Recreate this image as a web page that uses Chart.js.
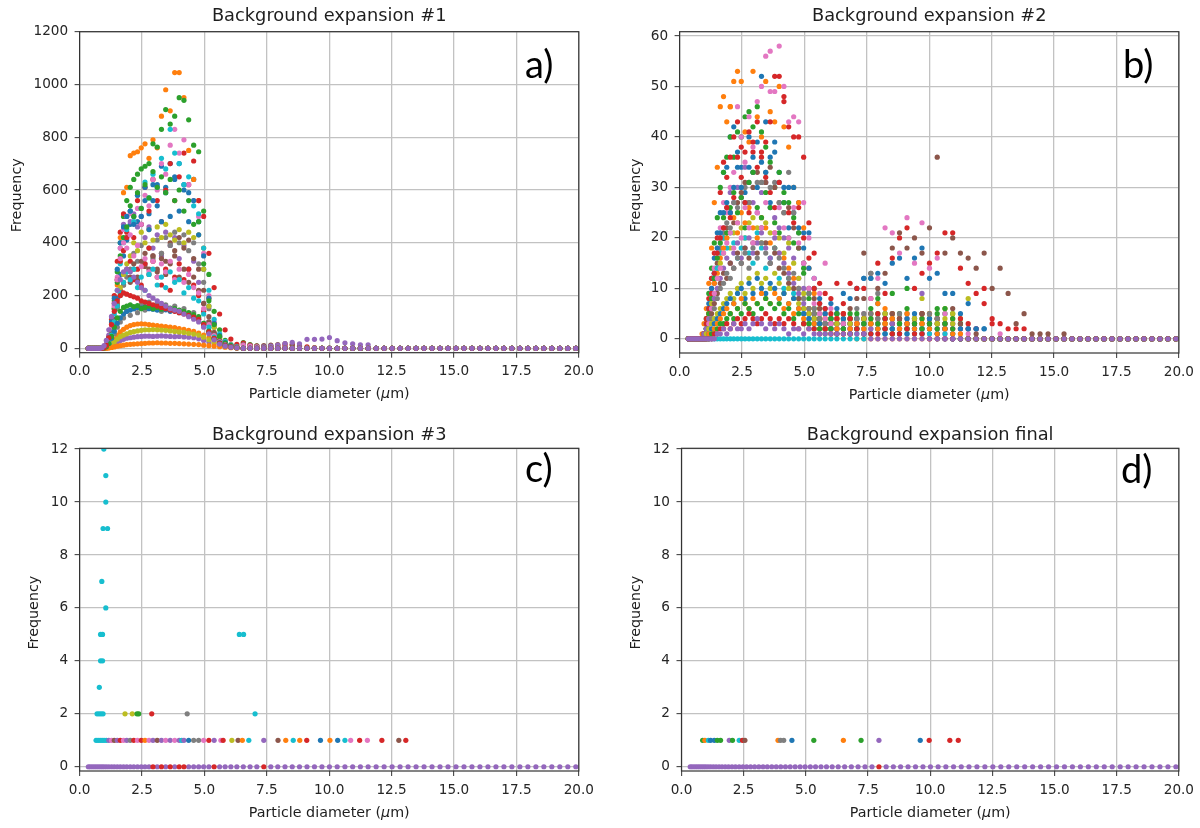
<!DOCTYPE html>
<html>
<head>
<meta charset="utf-8">
<script src="https://cdn.jsdelivr.net/npm/chart.js@4.4.1/dist/chart.umd.min.js"></script>
<style>
  html, body { margin: 0; padding: 0; background: #fff; }
  #fig { position: relative; width: 1200px; height: 828px; }
  canvas { position: absolute; }
</style>
</head>
<body>
<div id="fig">
  <canvas id="pa" width="600" height="414" style="left:0;top:0"></canvas>
  <canvas id="pb" width="600" height="414" style="left:600px;top:0"></canvas>
  <canvas id="pc" width="600" height="414" style="left:0;top:414px"></canvas>
  <canvas id="pd" width="600" height="414" style="left:600px;top:414px"></canvas>
</div>
<script>
// bin centres, particle diameter (um)
const diam = [0.35,0.42,0.50,0.58,0.66,0.74,0.82,0.90,0.98,1.07,
  1.17,1.28,1.39,1.51,1.63,1.76,1.89,2.03,2.17,2.32,
  2.47,2.62,2.78,2.94,3.11,3.28,3.45,3.63,3.81,3.99,
  4.18,4.37,4.57,4.77,4.97,5.18,5.39,5.61,5.83,6.06,
  6.30,6.56,6.83,7.10,7.38,7.66,7.94,8.23,8.52,8.81,
  9.11,9.41,9.71,10.01,10.32,10.63,10.94,11.25,11.56,11.88,
  12.20,12.52,12.84,13.16,13.48,13.80,14.12,14.44,14.76,15.08,
  15.40,15.72,16.04,16.36,16.68,17.00,17.32,17.64,17.96,18.28,
  18.60,18.92,19.24,19.56,19.88];

const xTicks = [0, 2.5, 5, 7.5, 10, 12.5, 15, 17.5, 20];
const yTicksA = [0, 200, 400, 600, 800, 1000, 1200];
const yTicksB = [0, 10, 20, 30, 40, 50, 60];
const yTicksCD = [0, 2, 4, 6, 8, 10, 12];

const tab10 = ['#1f77b4','#ff7f0e','#2ca02c','#d62728','#9467bd','#8c564b','#e377c2','#7f7f7f','#bcbd22','#17becf'];

// panel a: frequency per bin, one array per sample (missing tail = 0)
const a0 = [0,0,0,0,0,0,0,0,2,8, 25,60,110,190,280,350,410,470,500,480, 470,560,510,620,540,690,610,700,650,700, 620,590,640,480,300,160,90,45,22,10, 4];
const a1 = [0,0,0,0,0,0,0,0,2,10, 35,90,150,240,420,590,610,730,740,745, 760,775,720,790,760,880,980,900,1045,1045, 950,750,640,560,380,190,95,45,20,10, 5];
const a2 = [0,0,0,0,0,0,0,0,3,12, 40,100,180,290,400,500,560,610,640,660, 680,690,700,775,763,830,905,850,880,950, 940,866,770,745,520,280,140,70,30,14, 6,22,14,9,7,6,5];
const a3 = [0,0,0,0,0,0,0,0,3,15, 45,110,200,330,440,510,440,520,420,560, 470,610,520,640,560,480,600,700,560,650, 740,620,710,560,500,360,230,130,70,35, 15,20,12,8,6,8,10,12,15,10, 5,3];
const a4 = [0,0,0,0,0,0,0,0,4,15, 50,120,150,260,380,470,420,480,510,460, 500,420,460,380,430,350,440,390,420,340, 390,300,330,250,170,100,55,28,14,6, 2];
const a5 = [0,0,0,0,0,0,0,0,2,8, 25,60,110,170,220,240,290,250,300,270, 230,310,280,350,300,360,330,400,370,420, 380,410,340,300,220,120,60,30,16,8, 3,15,10,8,10,12,14,18,12,8];
const a6 = [0,0,0,0,0,0,0,0,2,10, 30,80,160,270,380,450,500,510,480,530, 470,580,540,640,600,700,660,770,830,740, 790,620,560,500,360,200,100,50,25,12, 5,12,8,5];
const a7 = [0,0,0,0,0,0,0,0,1,6, 20,50,90,150,200,240,270,300,360,330, 390,320,380,340,410,360,420,390,440,400, 430,370,400,320,250,150,80,40,20,9, 4];
const a8 = [0,0,0,0,0,0,0,0,2,7, 22,55,100,160,230,280,320,350,400,370, 440,400,450,410,460,420,470,430,410,450, 400,440,420,430,300,160,80,40,18,8, 3];
const a9 = [0,0,0,0,0,0,0,0,2,9, 28,70,130,220,320,400,450,520,480,580, 530,630,570,660,610,720,680,830,740,700, 620,650,540,510,380,220,110,55,25,12, 5];
const a10 = [0,0,0,0,0,0,0,0,3,12, 40,100,190,300,400,460,500,520,470,580, 500,610,450,560,620,480,590,500,640,520, 600,480,560,430,350,190,95,48,22,10, 4];
const a11 = [0,0,0,0,0,0,0,0,0,2, 8,20,35,50,62,72,80,86,90,92, 93,92,90,88,86,84,82,80,78,75, 72,68,64,58,50,40,30,20,12,6, 3];
const a12 = [0,0,0,0,0,0,0,0,2,10, 30,80,150,250,350,420,460,540,500,590, 530,620,570,670,610,650,590,640,560,600, 520,560,470,480,320,180,90,45,20,10, 4];
const a13 = [0,0,0,0,0,0,0,0,2,10, 35,90,170,260,330,370,420,330,260,300, 240,320,380,330,270,240,300,220,270,320, 260,300,240,200,140,90,50,25,12,6, 2];
const a14 = [0,0,0,0,0,0,0,0,0,1, 4,10,18,25,30,34,38,40,42,44, 45,46,46,45,46,47,46,45,44,45, 43,42,40,36,30,24,18,12,8,5, 3,2,2,3,5,8,12,18,23,17, 34,34,35,41,29,21,17,13,13];
const a15 = [0,0,0,0,0,0,0,0,1,6, 20,55,100,160,210,250,300,270,320,260, 330,360,300,350,290,340,280,320,350,270, 300,250,270,220,170,100,55,28,14,7, 3];
const a16 = [0,0,0,0,0,0,0,0,2,9, 30,80,160,260,340,400,380,430,350,390, 310,340,290,330,270,320,290,330,260,300, 250,280,230,210,150,90,48,24,12,6, 2];
const a17 = [0,0,0,0,0,0,0,0,1,4, 12,30,55,80,100,115,140,125,150,135, 165,145,175,150,170,140,165,145,160,135, 150,125,135,115,95,65,38,20,10,5, 2];
const a18 = [0,0,0,0,0,0,0,0,0,2, 6,15,25,35,44,50,55,60,63,66, 68,70,70,71,70,69,68,66,64,62, 60,57,54,50,42,32,22,14,8,4, 2];
const a19 = [0,0,0,0,0,0,0,0,1,6, 20,50,100,160,210,250,290,260,300,230, 270,220,280,300,240,270,230,290,250,260, 210,230,190,180,130,80,42,22,11,5, 2];
const a20 = [0,0,0,0,0,0,0,0,1,5, 15,38,65,95,115,130,140,145,150,155, 152,158,150,148,145,150,146,140,142,138, 132,128,120,110,88,60,36,20,10,5, 2];
const a21 = [0,0,0,0,0,0,0,0,0,0, 1,3,5,8,10,12,14,15,16,17, 18,19,20,20,21,20,20,19,19,18, 17,16,15,14,12,10,8,6,4,2, 1];
const a22 = [0,0,0,0,0,0,0,0,1,6, 18,45,80,115,140,155,160,165,158,162, 150,155,160,150,155,148,160,152,150,145, 140,135,128,120,95,65,38,20,10,5, 2];
const a23 = [0,0,0,0,0,0,0,0,2,12, 40,90,140,180,200,210,205,200,195,190, 180,175,170,165,160,155,150,145,140,135, 130,125,118,110,90,62,38,20,10,5, 2];
const a24 = [0,0,0,0,0,0,0,2,10,30, 70,120,170,220,260,290,300,290,270,250, 230,220,200,190,180,170,160,150,145,140, 130,120,110,100,80,55,32,16,8,4, 2];

// panel b
const b0 = [0,0,0,0,0,0,0,0,1,3, 7,12,16,21,25,33,34,40,42,37, 34,29,40,33,39,52,43,36,37,33, 30,30,25,27,21,21,12,8,6,7, 6,9,8,10,12,12,13,11,15,16, 12,16,18,12,13,9,9,5,7,2, 2];
const b1 = [0,0,0,0,0,0,0,1,3,6, 11,18,27,34,46,48,43,46,51,53, 51,41,39,53,44,40,51,45,43,50, 42,38,30,27,22,14,9,6,4,3, 2,2,1];
const b2 = [0,0,0,0,0,0,0,0,1,4, 9,14,19,24,30,33,36,40,36,41, 40,44,45,42,46,41,38,35,30,33, 29,27,24,18,14,9,6,4,3,2, 3,4,5,4,3,6,8,5,9,5, 10,4,5,4,6,5,5,3];
const b3 = [0,0,0,0,0,0,0,0,1,4, 8,12,17,20,29,35,32,36,40,43, 38,37,41,37,43,36,39,43,52,52, 48,42,40,40,36,23,17,11,9,8, 11,7,11,10,10,8,15,9,16,20, 22,10,13,15,17,21,21,14,11,9, 7,4,3,2,2,2];
const b4 = [0,0,0,0,0,0,0,0,1,2, 6,9,13,17,20,22,26,29,27,30, 28,34,31,27,25,29,31,26,24,22, 20,18,16,12,10,6,4,3,2,2, 2,1,2,2,1,2,3,2,1,2, 4,2,9,2,1,0,0,0,2];
const b5 = [0,0,0,0,0,0,0,0,1,2, 5,8,12,15,18,20,22,25,23,27, 29,31,27,30,33,31,31,34,30,27, 25,26,22,18,15,10,8,6,5,4, 3,5,6,8,17,13,10,13,18,21, 18,20,17,22,36,17,20,17,16,14, 17,10,14,9,3,5,1,1,1,0, 1];
const b6 = [0,0,0,0,0,0,0,0,1,3, 6,10,14,18,22,27,25,30,33,46, 40,35,44,38,47,50,56,57,49,58, 50,43,44,43,27,20,12,9,15,6, 4,3,2,3,5,8,12,22,21,17, 24,15,23,14,16,5,3,2,1];
const b7 = [0,0,0,0,0,0,0,0,0,2, 5,9,11,14,18,21,23,22,27,26, 28,30,27,33,31,31,33,30,31,27, 25,33,25,21,15,9,6,5,3,4, 5,3,4,6,5,13,9,5,4,3, 5,3,2,4,3,2];
const b8 = [0,0,0,0,0,0,0,0,0,1, 4,7,9,12,15,17,20,18,21,23, 22,20,23,24,22,19,23,21,18,20, 17,19,15,12,9,6,4,3,2,3, 4,2,3,3,2,4,3,5,4,2, 3,4,8,5,4,6,5,4,8];
const b9 = [0,0,0,0,0,0,0,0,1,3, 6,9,12,14,17,20,18,21,19,16, 18,20,17,15,21,18,14,16,18,12, 10,12,9,8,5,4,3,2,2,3, 2,3,2,1,2,3,2,1,2,3, 1,2,1,2];
const b10 = [0,0,0,0,0,0,0,0,1,2, 6,10,13,18,21,25,27,25,30,34, 30,27,34,36,30,35,33,27,39,31, 27,22,30,22,18,14,10,7,5,4, 5,4,3,4,12,12,7,4,5,3, 4,5,3,4,3,2];
const b11 = [0,0,0,0,0,0,0,0,1,3, 5,8,11,13,16,18,20,46,24,21, 25,23,26,22,20,24,22,19,21,17, 16,14,12,10,8,6,5,4,4,3, 4,5,4,3,4,5,7,6,5,4, 5,3,4,5,3,2,4,2];
const b12 = [0,0,0,0,0,0,0,0,0,2, 5,8,12,16,19,24,21,26,29,25, 28,22,31,33,26,24,29,26,23,21, 27,20,19,21,13,8,5,4,3,4, 5,3,4,5,4,3,5,4,3,4, 6,3,4,3,5,6,4,3];
const b13 = [0,0,0,0,0,0,0,0,1,3, 6,9,13,17,20,22,26,24,28,36, 32,27,25,39,34,37,32,29,26,31, 47,25,23,26,20,16,10,7,6,5, 4,5,4,3,4,3,5,4,3,4, 2,3,5,3,4,3,2,4,3,2, 10,3];
const b14 = [0,0,0,0,0,0,0,0,1,2, 4,6,8,10,12,14,16,15,17,19, 16,18,20,17,19,21,18,16,20,17, 15,13,11,9,7,5,4,3,3,2, 3,2,3,2,3,2,3,2,3,2, 3,2,2,3,2,2,3,2,2,2];
const b15 = [0,0,0,0,0,0,0,0,0,1, 3,5,7,9,11,13,12,15,14,17, 15,18,16,19,17,22,19,15,17,14, 13,11,10,8,6,5,4,3,2,3, 2,3,2,3,8,5,4,3,5,4, 3,4,5,3,4,3,6,3,2,1];
const b16 = [0,0,0,0,0,0,0,0,0,1, 3,6,9,12,14,17,19,21,18,23, 20,26,22,19,25,22,27,49,21,26, 22,20,26,19,15,10,7,5,4,3, 2,3,2,3,2,4,3,2,1,2, 3,1,2,1,2,1,2,1,0,0, 0,0,1];
const b17 = [0,0,0,0,0,0,0,0,0,1, 2,4,6,8,10,11,13,12,14,16, 15,17,14,18,16,19,17,15,18,16, 14,12,13,10,8,6,5,4,3,2, 3,2,3,4,3,5,4,3,4,5, 3,4,3,5,4,3];
const b18 = [0,0,0,0,0,0,0,0,0,1, 2,3,4,5,6,7,8,9,8,10, 11,9,12,10,13,11,12,10,13,11, 9,10,8,7,6,5,4,3,2,2, 3,2,3,2,4,3,2,3,2,3, 2,4,3,2,3,4,3];
const b19 = [0,0,0,0,0,0,0,0,0,0, 0,0,0,0,0,0,0,0,0,0, 0,0,0,0,0,0,0,0,0,0, 0,0,0,0,0,0,0,0,0,0, 0,0,0,0,0,1,2,1,2,1, 2,1,2,1,1,1,1];
const b20 = [0,0,0,0,0,0,0,0,0,0, 1,2,3,4,5,6,7,8,7,9, 10,8,11,9,12,10,9,11,10,8, 9,7,8,6,5,4,3,3,2,2, 1,2,1,2,1,1,2,1,2,1, 1,2,1,2,1,2,1,2,2,2, 2];
const b21 = [0,0,0,0,0,0,0,0,0,0, 1,1,2,3,4,5,6,5,7,6, 8,7,6,8,7,9,8,7,9,8, 6,7,5,6,4,3,3,2,2,1, 2,1,2,3,2,3,2,3,4,2, 3,2,3,2,1,2,1,1];
const b22 = [0,0,0,0,0,0,0,0,0,0, 0,1,1,2,3,3,4,5,4,6, 5,7,6,5,7,6,8,7,6,7, 5,6,4,5,3,3,2,2,1,2, 1,2,1,2,3,4,3,2,1,3, 2,3,2,3,2,3,2];
const b23 = [0,0,0,0,0,0,0,0,0,0, 0,0,1,1,2,2,3,2,3,4, 3,4,5,4,3,4,5,4,3,4, 3,4,3,2,3,2,2,1,2,1, 1,1,1,2,1,1,1,2,1,1, 2,1,1];
const b24 = [0,0,0,0,0,0,0,0,0,0, 0,0,0,1,1,2,1,2,3,2, 2,3,2,3,4,3,2,3,2,3, 2,1,2,2,1,2,1,1,1,1, 1,1,1,1,1];

// panel c: non-zero points (x um, frequency, colour index)
const cX = [0.97,1.05,1.05,0.94,1.12,0.89,1.05,0.84,0.92,0.84,0.92,0.79,0.70,0.78,0.86,0.94,
  6.40,6.57,7.03, 1.82,2.11,2.30,2.37,2.89,4.31,
  0.66,0.74,0.82,0.90,0.98,1.07,1.17,1.28,1.39,1.51,1.63,1.76,1.89,2.03,2.17,2.32,2.47,2.62,2.78,2.94,
  3.11,3.28,3.45,3.63,3.81,3.99,4.09,4.18,4.37,4.57,4.77,4.97,5.18,5.39,5.66,5.75,6.10,6.35,6.52,6.78,
  7.38,7.95,8.26,8.56,8.82,9.10,9.65,10.03,10.34,10.63,10.86,11.22,11.53,12.11,12.79,13.07];
const cY = [12,11,10,9,9,7,6,5,5,4,4,3,2,2,2,2, 5,5,2, 2,2,2,2,2,2,
  1,1,1,1,1,1,1,1,1,1,1,1,1,1,1,1,1,1,1,1,
  1,1,1,1,1,1,1,1,1,1,1,1,1,1,1,1,1,1,1,1,
  1,1,1,1,1,1,1,1,1,1,1,1,1,1,1,1];
const cC = [9,9,9,9,9,9,9,9,9,9,9,9,9,9,9,9, 9,9,9, 8,8,2,2,3,7,
  9,9,9,9,9,9,4,6,5,4,3,6,4,7,3,6,3,1,6,4,
  5,4,6,4,6,4,9,4,0,7,7,6,3,4,6,3,8,5,1,9,
  4,5,1,9,1,3,0,1,0,9,6,3,6,3,5,3];
const cZeroRed = [2.94, 3.28, 3.63, 3.99, 4.18, 5.39, 7.38];

// panel d
const dX = [0.85,0.94,1.08,1.17,1.32,1.44,1.57,1.92,2.05,2.32,2.45,2.55,3.88,3.98,4.11,4.44,5.32,6.51,7.22,7.94,9.60,9.96,10.79,11.13];
const dY = [1,1,1,1,1,1,1,1,1,1,1,1,1,1,1,1,1,1,1,1,1,1,1,1];
const dC = [2,1,9,0,0,2,2,4,2,9,3,5,1,7,7,0,2,1,2,4,0,3,3,3];
const dZeroRed = [7.94];

const seriesA = [a0,a1,a2,a3,a4,a5,a6,a7,a8,a9,a10,a11,a12,a13,a14,a15,a16,a17,a18,a19,a20,a21,a22,a23,a24];
const seriesB = [b0,b1,b2,b3,b4,b5,b6,b7,b8,b9,b10,b11,b12,b13,b14,b15,b16,b17,b18,b19,b20,b21,b22,b23,b24];

Chart.defaults.font.family = '"DejaVu Sans"';
Chart.defaults.color = '#262626';

// later samples are drawn on top, like matplotlib
function seriesSets(list) {
  return list.map((vals, i) => ({
    data: diam.map((x, j) => ({x: x, y: j < vals.length ? vals[j] : 0})),
    pointBackgroundColor: tab10[i % 10],
    order: list.length - i
  }));
}

function sparseSets(xs, ys, cs, redZero) {
  return [
    {data: diam.filter(x => !redZero.includes(x)).map(x => ({x: x, y: 0})), pointBackgroundColor: tab10[4], order: 3},
    {data: redZero.map(x => ({x: x, y: 0})), pointBackgroundColor: tab10[3], order: 2},
    {data: xs.map((x, i) => ({x: x, y: ys[i]})), pointBackgroundColor: cs.map(c => tab10[c]), order: 1}
  ];
}

// frame, titles, axis labels and panel letters
const decor = {
  id: 'decor',
  afterDatasetsDraw(chart) {
    const {ctx, chartArea: a} = chart;
    ctx.save();
    ctx.strokeStyle = '#333';
    ctx.lineWidth = 1.2;
    ctx.strokeRect(a.left, a.top, a.right - a.left, a.bottom - a.top);
    ctx.restore();
  },
  afterDraw(chart, args, o) {
    const {ctx, chartArea: a} = chart;
    const cx = (a.left + a.right) / 2;
    ctx.save();
    ctx.fillStyle = '#1e1e1e';
    ctx.textBaseline = 'middle';
    ctx.textAlign = 'center';
    ctx.font = '17.8px "DejaVu Sans"';
    ctx.fillText(o.title, cx, o.titleY);

    // x label, mu in italics
    const parts = [['Particle diameter (', ''], ['\u03bc', 'italic '], ['m)', '']];
    let w = 0;
    parts.forEach(p => { ctx.font = p[1] + '14.3px "DejaVu Sans"'; w += ctx.measureText(p[0]).width; });
    let x = cx - w / 2;
    ctx.textAlign = 'left';
    parts.forEach(p => {
      ctx.font = p[1] + '14.3px "DejaVu Sans"';
      ctx.fillText(p[0], x, a.bottom + 42);
      x += ctx.measureText(p[0]).width;
    });

    ctx.save();
    ctx.translate(o.ylabelX, (a.top + a.bottom) / 2 + 3);
    ctx.rotate(-Math.PI / 2);
    ctx.textAlign = 'center';
    ctx.font = '14.3px "DejaVu Sans"';
    ctx.fillText('Frequency', 0, 0);
    ctx.restore();

    ctx.fillStyle = '#000';
    ctx.font = '38px Lato';
    ctx.textAlign = 'left';
    ctx.textBaseline = 'alphabetic';
    ctx.fillText(o.letter, o.letterX, o.letterY);
    ctx.restore();
  }
};

function panel(id, datasets, p) {
  new Chart(document.getElementById(id), {
    type: 'scatter',
    data: {datasets: datasets},
    options: {
      responsive: false,
      animation: false,
      events: [],
      layout: {padding: {left: 0, top: p.top, right: p.right, bottom: 0}},
      elements: {point: {radius: 2.6, borderWidth: 0, hoverRadius: 2.6}},
      plugins: {
        legend: {display: false},
        tooltip: {enabled: false},
        decor: p.text
      },
      scales: {
        x: {
          type: 'linear', min: 0, max: 20,
          afterBuildTicks: s => { s.ticks = xTicks.map(v => ({value: v})); },
          afterFit: s => { s.height = p.xh; },
          ticks: {callback: v => v.toFixed(1), padding: 6, maxRotation: 0, autoSkip: false, font: {size: 13.6}},
          grid: {color: '#c2c2c2', lineWidth: 1.3, tickLength: 5, tickColor: '#333', tickWidth: 1},
          border: {display: false}
        },
        y: {
          type: 'linear', min: p.ymin, max: p.ymax,
          afterBuildTicks: s => { s.ticks = p.yticks.map(v => ({value: v})); },
          afterFit: s => { s.width = p.yw; },
          ticks: {callback: v => String(v), padding: 6.5, autoSkip: false, font: {size: 13.6}},
          grid: {color: '#c2c2c2', lineWidth: 1.3, tickLength: 5, tickColor: '#333', tickWidth: 1},
          border: {display: false}
        }
      }
    },
    plugins: [decor]
  });
}

panel('pa', seriesSets(seriesA), {top: 31.7, right: 21.2, xh: 61.3, yw: 79.6, ymin: -16.7, ymax: 1200, yticks: yTicksA,
  text: {title: 'Background expansion #1', titleY: 16.7, ylabelX: 17.3, letter: 'a)', letterX: 525, letterY: 78}});
panel('pb', seriesSets(seriesB), {top: 31.7, right: 20, xh: 61, yw: 79.6, ymin: -2.8, ymax: 60.85, yticks: yTicksB,
  text: {title: 'Background expansion #2', titleY: 16.7, ylabelX: 36.5, letter: 'b)', letterX: 523, letterY: 78}});
panel('pc', sparseSets(cX, cY, cC, cZeroRed), {top: 34.3, right: 21.2, xh: 57, yw: 79.6, ymin: -0.16, ymax: 12.03, yticks: yTicksCD,
  text: {title: 'Background expansion #3', titleY: 21, ylabelX: 34, letter: 'c)', letterX: 525, letterY: 68}});
panel('pd', sparseSets(dX, dY, dC, dZeroRed), {top: 34.3, right: 20, xh: 57, yw: 81.5, ymin: -0.16, ymax: 12.03, yticks: yTicksCD,
  text: {title: 'Background expansion final', titleY: 21, ylabelX: 36.5, letter: 'd)', letterX: 521, letterY: 69}});
</script>
</body>
</html>
